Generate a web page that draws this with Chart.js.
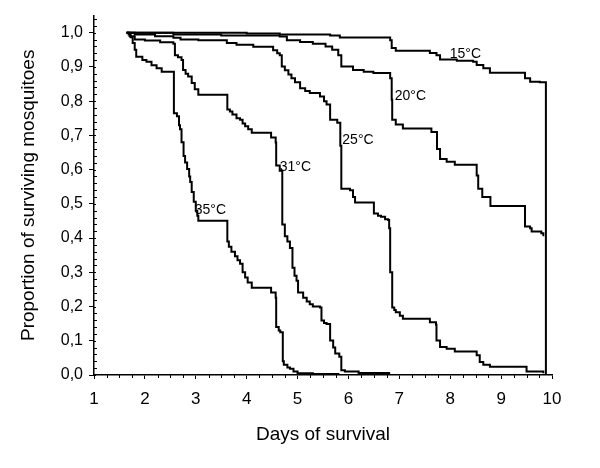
<!DOCTYPE html>
<html lang="en">
<head>
<meta charset="UTF-8">
<title>Mosquito survival</title>
<script src="https://cdn.jsdelivr.net/npm/chart.js"></script>
<style>
  body { margin: 0; background: #fff; }
  #wrap { width: 600px; height: 468px; }
</style>
</head>
<body>
<div id="wrap"><canvas id="survival-chart" width="600" height="468"></canvas></div>
<script>
// Kaplan-Meier style survival curves, one pair of arrays per temperature
const temps = ['15°C', '20°C', '25°C', '31°C', '35°C'];

const days15 = [1.64, 4.00, 4.65, 5.64, 5.83, 6.82, 6.85, 6.93, 7.60, 7.73, 7.80, 8.13, 8.45, 8.52, 8.65, 8.78, 9.47, 9.57, 9.76, 9.88, 9.88];
const surv15 = [1.0, 0.998, 0.995, 0.992, 0.986, 0.978, 0.955, 0.947, 0.941, 0.934, 0.922, 0.918, 0.915, 0.906, 0.896, 0.883, 0.867, 0.857, 0.855, 0.850, 0.0];

const days20 = [1.64, 2.56, 3.50, 4.65, 4.79, 5.05, 5.30, 5.55, 5.68, 5.80, 5.86, 6.09, 6.30, 6.49, 6.82, 6.85, 6.86, 6.93, 7.07, 7.63, 7.74, 7.80, 7.93, 8.09, 8.52, 8.55, 8.63, 8.79, 9.47, 9.57, 9.60, 9.79, 9.83];
const surv20 = [1.0, 0.995, 0.992, 0.989, 0.978, 0.973, 0.968, 0.960, 0.950, 0.934, 0.901, 0.891, 0.886, 0.882, 0.867, 0.804, 0.746, 0.732, 0.720, 0.710, 0.660, 0.631, 0.623, 0.614, 0.583, 0.544, 0.520, 0.494, 0.434, 0.429, 0.419, 0.414, 0.405];

const days25 = [1.64, 1.80, 2.20, 2.56, 2.70, 3.05, 3.61, 3.80, 4.13, 4.52, 4.60, 4.65, 4.69, 4.75, 4.82, 4.88, 4.95, 5.05, 5.15, 5.24, 5.44, 5.52, 5.57, 5.64, 5.78, 5.84, 5.86, 6.03, 6.09, 6.13, 6.50, 6.58, 6.64, 6.72, 6.78, 6.80, 6.82, 6.86, 6.90, 6.93, 7.01, 7.07, 7.60, 7.72, 7.73, 7.80, 7.93, 8.09, 8.52, 8.58, 8.65, 8.78, 9.50, 9.83];
const surv25 = [1.0, 0.995, 0.990, 0.985, 0.980, 0.978, 0.970, 0.965, 0.959, 0.949, 0.940, 0.934, 0.901, 0.890, 0.878, 0.867, 0.855, 0.838, 0.830, 0.824, 0.814, 0.800, 0.790, 0.746, 0.737, 0.670, 0.544, 0.540, 0.520, 0.504, 0.472, 0.465, 0.462, 0.455, 0.453, 0.429, 0.300, 0.197, 0.190, 0.183, 0.173, 0.164, 0.154, 0.147, 0.101, 0.082, 0.077, 0.069, 0.058, 0.038, 0.030, 0.024, 0.010, 0.005];

const days31 = [1.64, 1.70, 1.80, 2.00, 2.30, 2.56, 2.59, 2.65, 2.72, 2.75, 2.80, 2.85, 2.92, 2.98, 3.05, 3.62, 3.67, 3.72, 3.80, 3.87, 3.92, 3.97, 4.03, 4.10, 4.48, 4.57, 4.58, 4.65, 4.70, 4.75, 4.80, 4.85, 4.90, 4.94, 4.98, 5.01, 5.11, 5.18, 5.24, 5.30, 5.44, 5.47, 5.52, 5.57, 5.64, 5.70, 5.74, 5.82, 5.86, 5.93, 6.20, 6.80];
const surv31 = [1.0, 0.990, 0.980, 0.977, 0.972, 0.968, 0.934, 0.928, 0.920, 0.891, 0.880, 0.872, 0.853, 0.835, 0.819, 0.776, 0.770, 0.761, 0.750, 0.746, 0.735, 0.727, 0.718, 0.708, 0.694, 0.679, 0.612, 0.597, 0.440, 0.405, 0.390, 0.371, 0.313, 0.290, 0.275, 0.241, 0.226, 0.215, 0.207, 0.200, 0.197, 0.159, 0.152, 0.149, 0.101, 0.080, 0.063, 0.053, 0.014, 0.010, 0.006, 0.0];

const days35 = [1.64, 1.68, 1.72, 1.76, 1.80, 1.83, 1.95, 2.03, 2.13, 2.23, 2.33, 2.57, 2.63, 2.67, 2.69, 2.72, 2.76, 2.79, 2.83, 2.87, 2.89, 2.92, 2.96, 3.00, 3.03, 3.05, 3.62, 3.65, 3.70, 3.77, 3.82, 3.87, 3.92, 3.97, 4.02, 4.10, 4.48, 4.57, 4.58, 4.63, 4.66, 4.71, 4.73, 4.80, 4.85, 4.92, 5.00, 5.30, 5.80];
const surv35 = [1.0, 0.995, 0.987, 0.970, 0.950, 0.930, 0.920, 0.915, 0.905, 0.896, 0.886, 0.765, 0.756, 0.730, 0.718, 0.680, 0.640, 0.621, 0.602, 0.580, 0.564, 0.535, 0.506, 0.480, 0.465, 0.451, 0.390, 0.375, 0.360, 0.347, 0.335, 0.325, 0.300, 0.285, 0.270, 0.255, 0.241, 0.226, 0.140, 0.130, 0.125, 0.040, 0.030, 0.022, 0.018, 0.010, 0.005, 0.003, 0.0];

// where each curve label sits (in data units: day, proportion)
const labelDays = [7.99, 6.91, 5.88, 4.65, 2.98];
const labelValues = [0.938, 0.815, 0.686, 0.607, 0.483];

const FONT = "'Liberation Sans', Arial, Helvetica, sans-serif";

function toPoints(days, surv) {
    return days.map((d, i) => ({ x: d, y: surv[i] }));
}

const series = [
    toPoints(days15, surv15),
    toPoints(days20, surv20),
    toPoints(days25, surv25),
    toPoints(days31, surv31),
    toPoints(days35, surv35)
];

// small inner ticks between the labelled ones, plus the labels on the curves
const decorPlugin = {
    id: 'decor',
    afterDraw(chart) {
        const ctx = chart.ctx;
        const xs = chart.scales.x;
        const ys = chart.scales.y;
        const x0 = xs.getPixelForValue(1);
        const y0 = ys.getPixelForValue(0);
        ctx.save();
        ctx.strokeStyle = '#000';
        ctx.lineWidth = 1;
        ctx.beginPath();
        for (let k = 0; k <= 52; k++) {
            const py = Math.round(ys.getPixelForValue(k * 0.02)) + 0.5;
            ctx.moveTo(x0, py);
            ctx.lineTo(x0 + (k % 5 === 0 ? 2 : 3), py);
        }
        for (let k = 1; k < 36; k++) {
            if (k % 4 === 0) continue;
            const px = Math.round(xs.getPixelForValue(1 + k * 0.25)) + 0.5;
            ctx.moveTo(px, y0);
            ctx.lineTo(px, y0 + 3);
        }
        ctx.stroke();

        ctx.fillStyle = '#000';
        ctx.font = '14px ' + FONT;
        ctx.textAlign = 'left';
        ctx.textBaseline = 'middle';
        temps.forEach((t, i) => {
            ctx.fillText(t, xs.getPixelForValue(labelDays[i]), ys.getPixelForValue(labelValues[i]));
        });
        ctx.restore();
    }
};

new Chart(document.getElementById('survival-chart'), {
    type: 'line',
    data: {
        datasets: series.map((pts, i) => ({
            label: temps[i],
            data: pts,
            borderColor: '#000',
            borderWidth: 2,
            pointRadius: 0,
            stepped: true,
            fill: false
        }))
    },
    options: {
        responsive: false,
        animation: false,
        layout: { padding: { top: 12, right: 48, bottom: 0, left: 0 } },
        plugins: {
            legend: { display: false },
            tooltip: { enabled: false }
        },
        scales: {
            x: {
                type: 'linear',
                min: 1,
                max: 10,
                afterFit(scale) { scale.height = 93; },
                ticks: {
                    stepSize: 1,
                    color: '#000',
                    padding: 10,
                    font: { family: FONT, size: 17 }
                },
                grid: { drawOnChartArea: false, tickLength: 4, color: '#000' },
                border: { color: '#000', width: 1.5 },
                title: {
                    display: true,
                    text: 'Days of survival',
                    color: '#000',
                    font: { family: FONT, size: 19 },
                    padding: { top: 0, bottom: 22 }
                }
            },
            y: {
                min: 0,
                max: 1.05,
                afterFit(scale) { scale.width = 94; },
                ticks: {
                    stepSize: 0.1,
                    includeBounds: false,
                    color: '#000',
                    padding: 6,
                    font: { family: FONT, size: 16 },
                    callback: v => v.toFixed(1).replace('.', ',')
                },
                grid: { drawOnChartArea: false, tickLength: 5, color: '#000' },
                border: { color: '#000', width: 1.5 },
                title: {
                    display: true,
                    text: 'Proportion of surviving mosquitoes',
                    color: '#000',
                    font: { family: FONT, size: 19 },
                    padding: { top: 17, bottom: 0 }
                }
            }
        }
    },
    plugins: [decorPlugin]
});
</script>
</body>
</html>
